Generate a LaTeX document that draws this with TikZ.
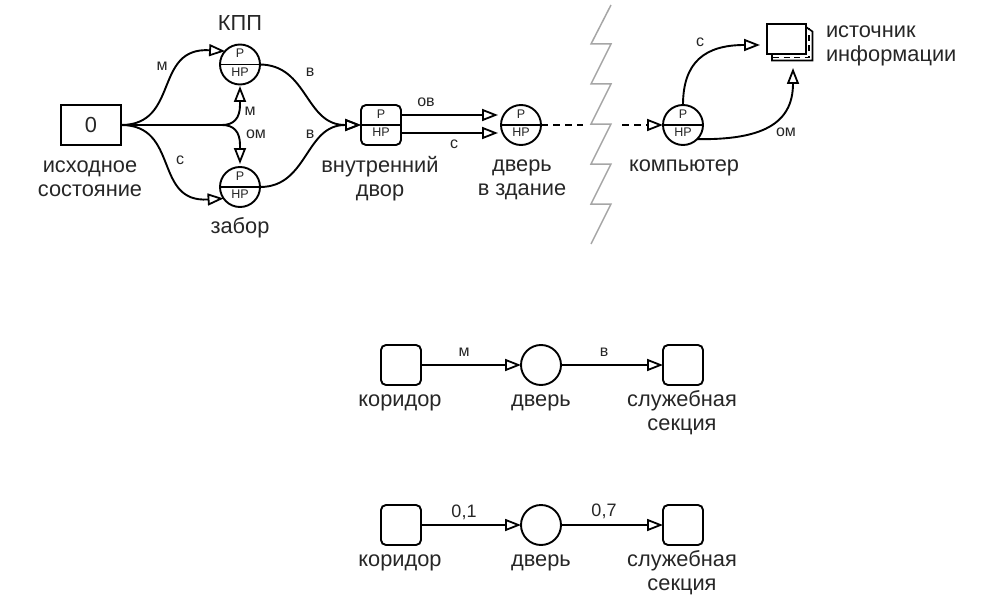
\documentclass[tikz,border=0pt]{standalone}
\usepackage{fontspec}
\setmainfont{Liberation Sans}
\usetikzlibrary{arrows.meta}
\tikzset{
  every node/.style={inner sep=0pt,outer sep=0pt,text=black!85},
  wire/.style={line width=1.9pt,draw=black,-{Triangle[open,length=16pt,width=12pt,line width=1.8pt]}},
  plain/.style={line width=1.9pt,draw=black},
  place/.style={circle,draw=black,line width=1.9pt,minimum size=40pt,fill=white},
  rbox/.style={draw=black,line width=1.9pt,rounded corners=5pt,minimum size=40pt,fill=white},
  big/.style={font=\fontsize{21.8}{24}\selectfont,align=center},
  lab/.style={font=\fontsize{16}{18}\selectfont},
  num/.style={font=\fontsize{18}{20}\selectfont},
  pp/.style={font=\fontsize{12.5}{14}\selectfont},
}
\newcommand{\splitplace}[1]{%
  \draw[plain] (#1.west) -- (#1.east);
  \node[pp] at ([yshift=11pt]#1.center) {P};
  \node[pp] at ([yshift=-7.5pt]#1.center) {HP};
}
\begin{document}
\begin{tikzpicture}[x=1pt,y=-1pt]
\useasboundingbox (0,0) rectangle (1002,610);
% zigzag
\draw[draw=black!35,line width=1.5pt] (611,5) -- (591,44) -- (611,44) -- (591,84) -- (611,84) -- (591,124) -- (611,124) -- (591,164) -- (611,164) -- (591,204) -- (611,204) -- (591,244);
% nodes
\node[draw=black,line width=1.9pt,minimum width=60pt,minimum height=40pt,font=\fontsize{21.8}{24}\selectfont] (zero) at (91,125) {0};
\node[place] (kpp) at (240,64.5) {};
\node[place] (fence) at (240,187) {};
\node[rbox] (yard) at (381,125) {};
\node[place] (door) at (521,125) {};
\node[place] (comp) at (683,125) {};
\coordinate (gapa) at (583,125);
\coordinate (gapb) at (622,125);
\coordinate (doorA) at (498,115);
\coordinate (doorB) at (498,133);
\coordinate (yardA) at (401,115);
\coordinate (yardB) at (401,133);
\coordinate (forkA) at (222,125);
\coordinate (kppIn) at (240,86);
\coordinate (fenceIn) at (240,164);
\coordinate (merge) at (345,125);
\coordinate (srcS) at (793,68);
\coordinate (srcW) at (760,45);
% source icon
\draw[plain,line width=1.6pt] (772,34) -- (772,60.5) -- (812.5,60.5) -- (812.5,31.5) -- (806,27);
\draw[plain,dash pattern=on 6pt off 4.5pt] (773,57.5) -- (809,57.5) -- (809,28);
\node[draw=black,line width=1.9pt,minimum width=39.5pt,minimum height=29.5pt,fill=white] (src) at (786.5,39) {};
% connectors
\draw[wire] (zero.east) .. controls (180,125) and (153,47) .. (kpp.138);
\draw[plain] (zero.east) -- (forkA);
\draw[wire] (forkA) .. controls (234,125) and (240,118) .. (240,105) -- (kppIn);
\draw[wire] (forkA) .. controls (234,125) and (240,132) .. (240,145) -- (fenceIn);
\draw[wire] (zero.east) .. controls (180,125) and (153,203) .. (fence.215);
\draw[wire] (kpp.east) .. controls (308,65) and (305,125) .. (merge) -- (yard.west);
\draw[wire] (fence.east) .. controls (308,187) and (305,125) .. (merge) -- (yard.west);
\draw[wire] (yardA) -- (doorA);
\draw[wire] (yardB) -- (doorB);
\draw[plain,dash pattern=on 7pt off 5pt] (door.east) -- (gapa);
\draw[wire,dash pattern=on 7pt off 5pt] (gapb) -- (comp.west);
\draw[wire] (comp.north) .. controls (683,62) and (705,45) .. (srcW);
\draw[wire] (comp.-45) .. controls (760,140) and (793,125) .. (srcS);
\splitplace{kpp}
\splitplace{fence}
\splitplace{yard}
\splitplace{door}
\splitplace{comp}
% labels
\node[big] at (240,23) {КПП};
\node[big] at (240,228) {забор};
\node[big] at (90,179) {исходное\\состояние};
\node[big] at (380,179) {внутренний\\двор};
\node[big] at (522,180) {дверь\\в здание};
\node[big] at (684,168) {компьютер};
\node[big,align=left,anchor=west] at (826,46) {источник\\информации};
\node[lab] at (162,66) {м};
\node[lab] at (250,111) {м};
\node[lab] at (256,134) {ом};
\node[lab] at (180,160) {с};
\node[lab] at (310,72) {в};
\node[lab] at (310,134) {в};
\node[lab] at (426,102) {ов};
\node[lab] at (454,144) {с};
\node[lab] at (700,42) {с};
\node[lab] at (786,132) {ом};
% second row
\node[rbox] (a1) at (401,365) {};
\node[place] (b1) at (541,365) {};
\node[rbox] (c1) at (683,365) {};
\draw[wire] (a1) -- (b1);
\draw[wire] (b1) -- (c1);
\node[lab] at (464,352) {м};
\node[lab] at (604,352) {в};
\node[big] at (400,403) {коридор};
\node[big] at (541,403) {дверь};
\node[big] at (682,413) {служебная\\секция};
% third row
\node[rbox] (a2) at (401,525) {};
\node[place] (b2) at (541,525) {};
\node[rbox] (c2) at (683,525) {};
\draw[wire] (a2) -- (b2);
\draw[wire] (b2) -- (c2);
\node[num] at (464,512) {0,1};
\node[num] at (604,511) {0,7};
\node[big] at (400,563) {коридор};
\node[big] at (541,563) {дверь};
\node[big] at (682,573) {служебная\\секция};
\end{tikzpicture}
\end{document}
